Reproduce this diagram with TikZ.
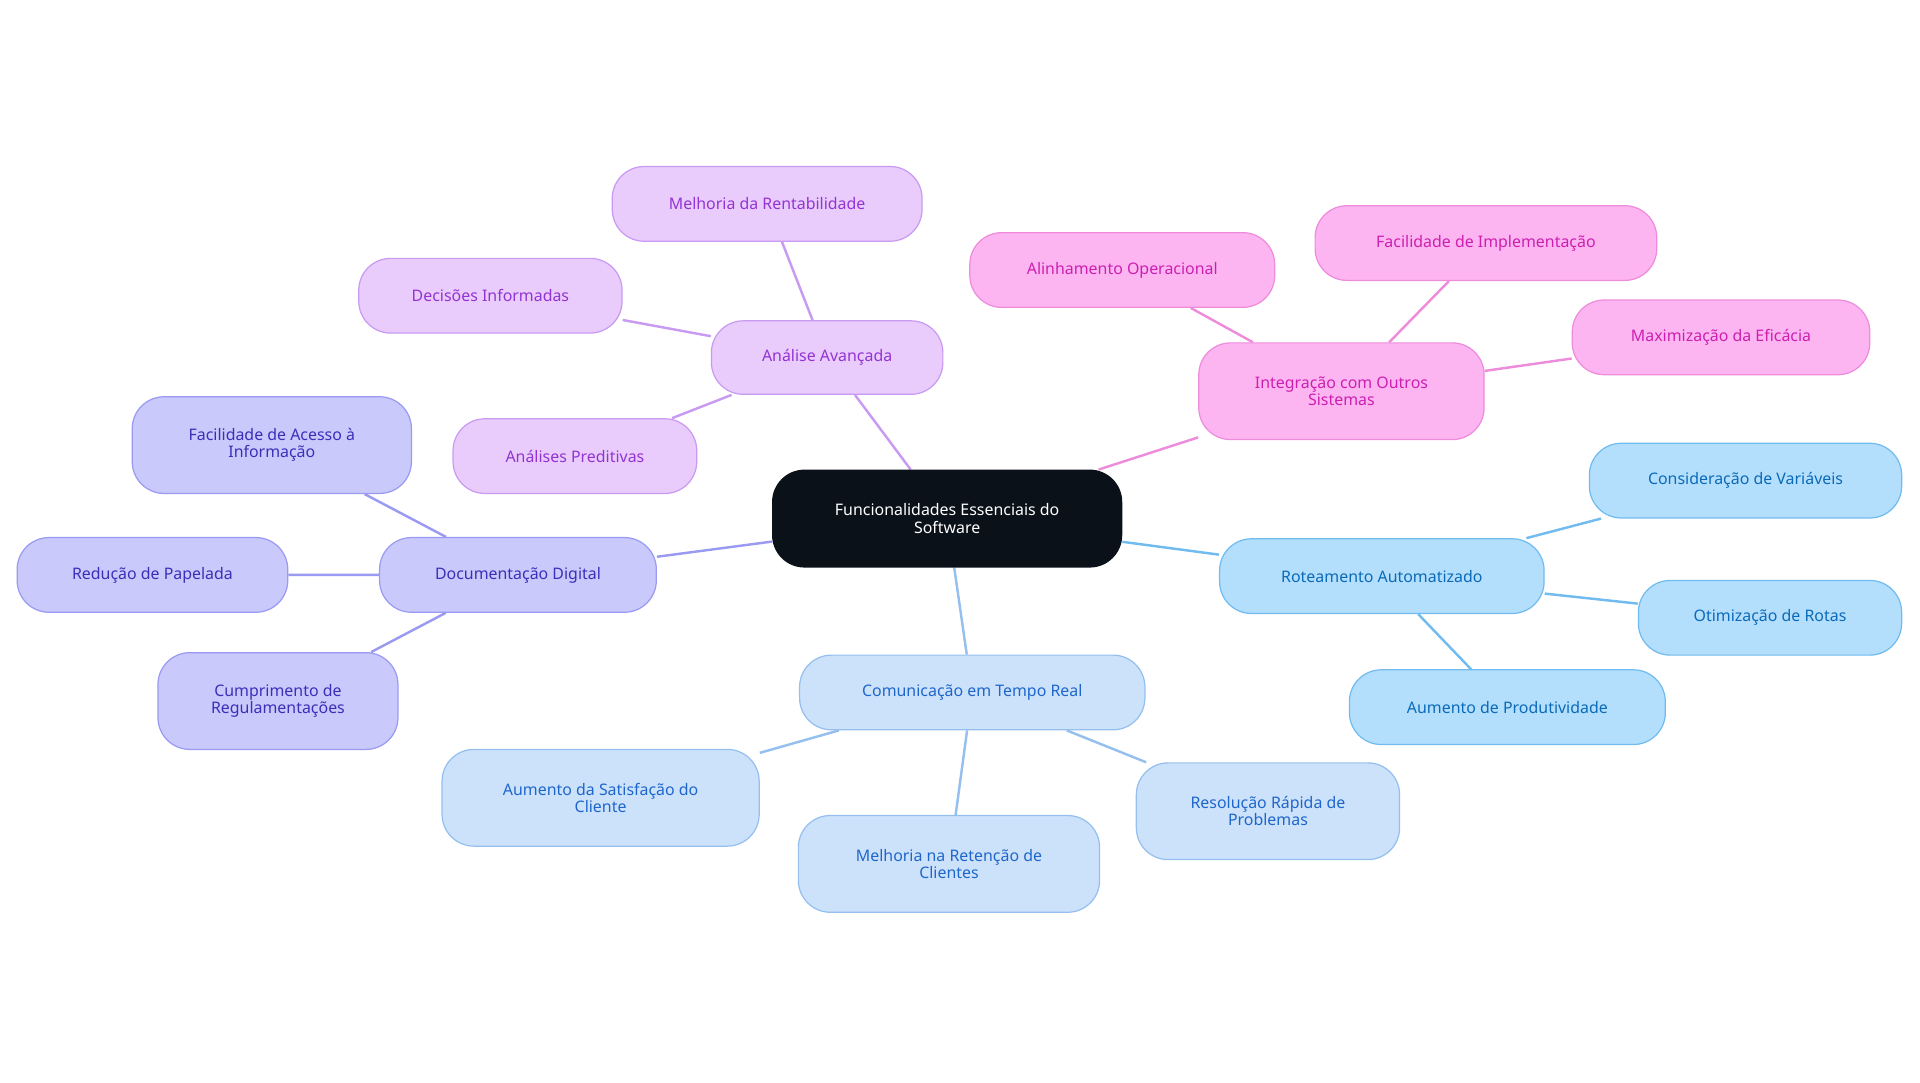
\documentclass[tikz,border=0pt]{standalone}
\usepackage{fontspec}
\setmainfont{Noto Sans}
\usetikzlibrary{backgrounds}
\definecolor{pF}{HTML}{E9CCFB}\definecolor{pD}{HTML}{C99AF2}\definecolor{pT}{HTML}{9233D4}
\definecolor{kF}{HTML}{FDB5F2}\definecolor{kD}{HTML}{EE8CDC}\definecolor{kT}{HTML}{CC1FB0}
\definecolor{bF}{HTML}{B3DFFD}\definecolor{bD}{HTML}{72BBEE}\definecolor{bT}{HTML}{0B6AB8}
\definecolor{lF}{HTML}{CCE2FA}\definecolor{lD}{HTML}{95BFEE}\definecolor{lT}{HTML}{1F66CC}
\definecolor{vF}{HTML}{C9C9FC}\definecolor{vD}{HTML}{9A9AF2}\definecolor{vT}{HTML}{3A2FB8}
\definecolor{cF}{HTML}{0B1119}
\tikzset{x=1pt,y=-1pt,
 box/.style={rounded corners=26pt,line width=1pt,align=center,font=\fontsize{13}{14}\selectfont,inner sep=0pt},
 pur/.style={box,fill=pF,draw=pD,text=pT},
 pin/.style={box,fill=kF,draw=kD,text=kT},
 blu/.style={box,fill=bF,draw=bD,text=bT},
 lbl/.style={box,fill=lF,draw=lD,text=lT},
 vio/.style={box,fill=vF,draw=vD,text=vT},
 e/.style={line width=2pt}}
\newcommand{\bx}[7]{\node[#1,minimum width={#4-#2},minimum height={#5-#3}] (#6) at ({(#2+#4)/2},{(#3+#5)/2}) {#7};}
\begin{document}
\begin{tikzpicture}
\useasboundingbox (0,0) rectangle (1568,884);
\bx{box,fill=cF,draw=cF,text=white}{631}{384}{916}{463}{c}{Funcionalidades Essenciais do\\Software}
\bx{pur}{581}{262}{770}{322}{a}{Análise Avançada}
\bx{pur}{500}{136}{753}{197}{a1}{Melhoria da Rentabilidade}
\bx{pur}{293}{211}{508}{272}{a2}{Decisões Informadas}
\bx{pur}{370}{342}{569}{403}{a3}{Análises Preditivas}
\bx{pin}{979}{280}{1212}{359}{i}{Integração com Outros\\Sistemas}
\bx{pin}{792}{190}{1041}{251}{i1}{Alinhamento Operacional}
\bx{pin}{1074}{168}{1353}{229}{i2}{Facilidade de Implementação}
\bx{pin}{1284}{245}{1527}{306}{i3}{Maximização da Eficácia}
\bx{blu}{996}{440}{1261}{501}{r}{Roteamento Automatizado}
\bx{blu}{1298}{362}{1553}{423}{r1}{Consideração de Variáveis}
\bx{blu}{1338}{474}{1553}{535}{r2}{Otimização de Rotas}
\bx{blu}{1102}{547}{1360}{608}{r3}{Aumento de Produtividade}
\bx{lbl}{653}{535}{935}{596}{m}{Comunicação em Tempo Real}
\bx{lbl}{361}{612}{620}{691}{m1}{Aumento da Satisfação do\\Cliente}
\bx{lbl}{652}{666}{898}{745}{m2}{Melhoria na Retenção de\\Clientes}
\bx{lbl}{928}{623}{1143}{702}{m3}{Resolução Rápida de\\Problemas}
\bx{vio}{310}{439}{536}{500}{d}{Documentação Digital}
\bx{vio}{108}{324}{336}{403}{d1}{Facilidade de Acesso à\\Informação}
\bx{vio}{14}{439}{235}{500}{d2}{Redução de Papelada}
\bx{vio}{129}{533}{325}{612}{d3}{Cumprimento de\\Regulamentações}
\begin{pgfonlayer}{background}
\draw[e,pD] (c)--(a) (a)--(a1) (a)--(a2) (a)--(a3);
\draw[e,kD] (c)--(i) (i)--(i1) (i)--(i2) (i)--(i3);
\draw[e,bD] (c)--(r) (r)--(r1) (r)--(r2) (r)--(r3);
\draw[e,lD] (c)--(m) (m)--(m1) (m)--(m2) (m)--(m3);
\draw[e,vD] (c)--(d) (d)--(d1) (d)--(d2) (d)--(d3);
\end{pgfonlayer}
\end{tikzpicture}
\end{document}
